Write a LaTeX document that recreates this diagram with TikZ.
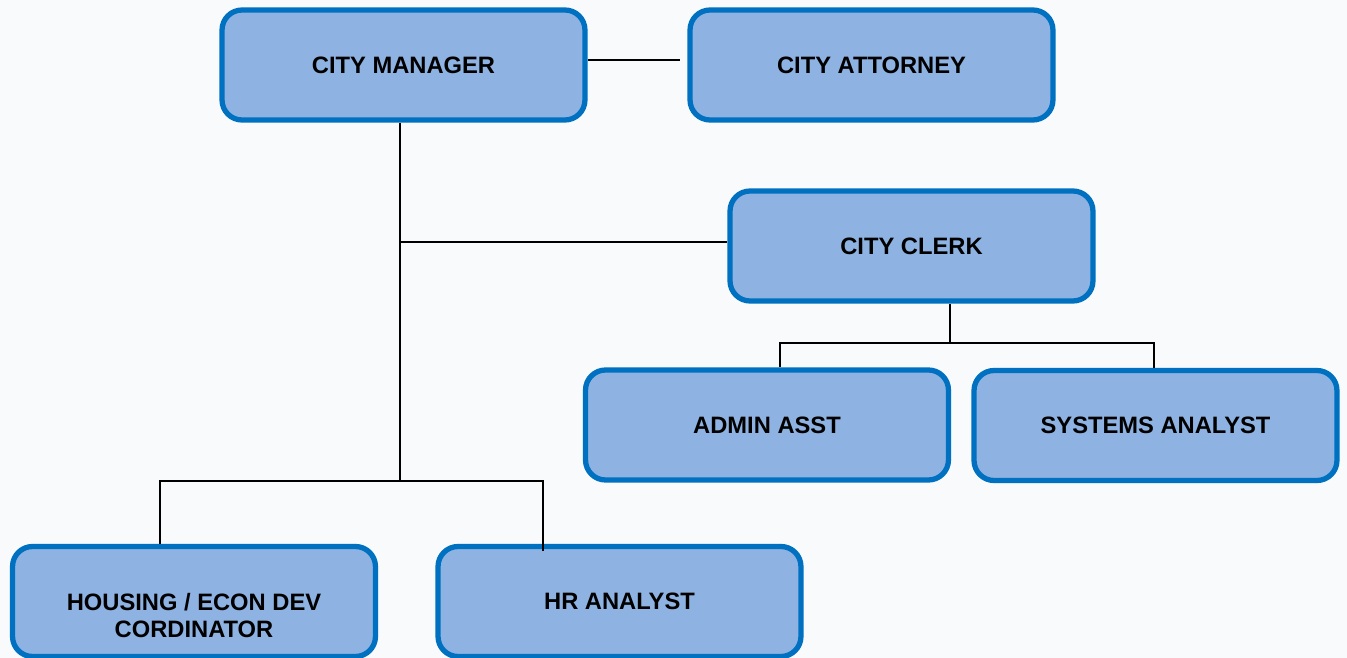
\documentclass[tikz,border=0pt]{standalone}
\usepackage{fontspec}
\setmainfont{Liberation Sans}
\definecolor{boxfill}{HTML}{8EB3E2}
\definecolor{boxline}{HTML}{0070C0}
\definecolor{paper}{HTML}{F8FAFB}

\begin{document}
\begin{tikzpicture}[x=0.02cm,y=-0.02cm,
    unit/.style={draw=boxline,fill=boxfill,line width=3pt,rounded corners=0.4cm,
        minimum width=7.26cm,minimum height=2.2cm,inner sep=0pt,align=center,
        font=\fontsize{13.5}{15.5}\selectfont\bfseries},
    unittext/.style={inner sep=0pt,align=center,font=\fontsize{13.5}{15.5}\selectfont\bfseries},
    link/.style={line width=1.2pt}]

    \useasboundingbox (0,0) rectangle (1347,658);
    \fill [paper] (0,0) rectangle (1347,658);
    \clip (0,0) rectangle (1347,658);

    %%%%%%%%%%%%%%%%%%% Top row %%%%%%%%%%%%%%%%%%%%%%%%%%%%%%%
    \node [unit] (cm) at (403.5,65) {CITY MANAGER};
    \node [unit] (att) at (871.5,65) {CITY ATTORNEY};

    %%%%%%%%%%%%%%%%%%% Clerk and staff %%%%%%%%%%%%%%%%%%%%%%%%
    \node [unit] (clerk) at (911.5,246) {CITY CLERK};
    \node [unit] (admin) at (767,425) {ADMIN ASST};
    \node [unit] (sys) at (1155.5,425.5) {SYSTEMS ANALYST};

    %%%%%%%%%%%%%%%%%%% Bottom row %%%%%%%%%%%%%%%%%%%%%%%%%%%%%
    \node [unit] (hsg) at (194,601.5) {};
    \node [unittext] (hsgt) at (194,615.5) {HOUSING / ECON DEV\\CORDINATOR};
    \node [unit] (hr) at (619.5,601.5) {HR ANALYST};

    % Lines
    \coordinate (attin) at (680,60);
    \coordinate (trunk) at (400,481);
    \coordinate (clerkin) at (400,242);
    \coordinate (clerkbus) at (950,343);
    \coordinate (adminup) at (780,343);
    \coordinate (sysup) at (1154,343);
    \coordinate (hsgup) at (160,481);
    \coordinate (hrup) at (543,481);

    \draw [link] (attin -| cm.east) -- (attin);
    \draw [link] (trunk |- cm.south) -- (trunk);
    \draw [link] (clerkin) -- (clerkin -| clerk.west);
    \draw [link] (clerkbus |- clerk.south) -- (clerkbus);
    \draw [link] (adminup |- admin.north) -- (adminup) -- (sysup) -- (sysup |- sys.north);
    \draw [link] (hsgup |- hsg.north) -- (hsgup) -- (hrup) --+ (0,70);

\end{tikzpicture}
\end{document}
